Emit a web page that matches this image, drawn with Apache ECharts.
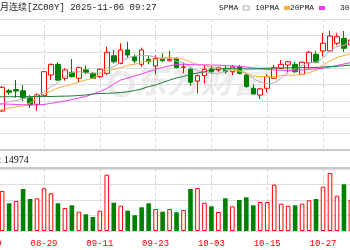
<!DOCTYPE html>
<html><head><meta charset="utf-8">
<script src="https://cdn.jsdelivr.net/npm/echarts@6/dist/echarts.min.js"></script>
<style>html,body{margin:0;padding:0;background:#fff;overflow:hidden}#c{width:350px;height:250px}</style>
</head><body><div id="c"></div>
<script>
// ---- data ----
const titleText = '月连续[ZC00Y] 2025-11-06 09:27';
const volLabel = ': 14974';
const watermark = '东方财富';
const maNames = ['5PMA', '10PMA', '20PMA', '30PMA'];
const dates = ['08-19','08-20','08-21','08-22','08-25','08-26','08-27','08-28','08-29','09-01','09-02','09-03','09-04','09-05','09-08','09-10','09-11','09-12','09-15','09-16','09-17','09-18','09-19','09-22','09-23','09-24','09-25','09-26','09-29','09-30','10-01','10-02','10-03','10-06','10-07','10-08','10-09','10-10','10-13','10-14','10-15','10-16','10-17','10-20','10-21','10-22','10-23','10-24','10-27','10-28','10-29','10-30','10-31','11-03'];
// [open, close, low, high]
const candles = [
 [650.0,648.0,646.5,651.0],[648.0,646.0,645.0,649.0],[643.8,658.3,643.2,659.1],[656.2,655.2,653.6,657.3],
 [656.9,656.0,651.9,662.7],[656.2,651.9,649.9,659.7],[651.9,647.5,645.8,653.6],[647.9,653.6,643.8,654.6],
 [653.2,667.8,652.7,668.2],[665.8,672.3,662.7,672.9],[672.3,662.7,662.1,673.6],[663.8,668.9,662.3,669.9],
 [667.5,664.8,664.2,675.6],[663.8,670.3,661.3,670.9],[668.9,667.5,666.2,671.5],[666.8,663.8,663.4,667.8],
 [664.8,669.3,663.8,669.9],[666.8,679.7,665.8,683.1],[677.6,673.9,672.9,681.1],[672.9,681.1,672.3,685.2],
 [681.1,678.0,676.0,686.1],[677.0,674.4,672.9,678.4],[672.3,681.1,670.9,682.5],[675.4,673.9,672.3,678.0],
 [671.3,676.0,666.2,678.0],[675.4,674.5,673.6,679.1],[674.5,675.4,673.9,680.5],[676.0,670.3,669.9,676.4],
 [670.6,670.8,666.8,672.9],[669.3,661.3,659.1,669.9],[662.1,665.4,654.6,666.2],[665.4,669.3,660.7,671.9],
 [669.5,667.8,666.8,671.5],[668.9,670.3,667.8,670.9],[669.9,667.8,666.8,671.5],[667.8,670.7,665.8,671.9],
 [670.9,666.8,666.2,671.9],[665.8,658.7,658.0,666.8],[657.7,654.2,654.0,660.1],[653.6,657.3,651.1,657.9],
 [657.7,664.8,655.2,666.2],[663.8,670.3,663.4,671.9],[669.9,672.3,669.5,675.0],[671.9,673.9,666.8,674.4],
 [672.3,667.8,667.0,673.9],[666.2,673.6,665.8,673.9],[673.3,679.7,669.9,680.5],[678.4,673.6,672.9,680.5],
 [680.5,685.2,677.0,691.4],[680.5,689.6,680.0,692.7],[685.2,689.2,684.1,691.3],[688.2,682.1,680.0,692.7],
 [684.1,687.2,682.9,688.4],[687.0,688.0,685.5,689.5]
];
const volumes = [12000,15000,19355,13400,14520,20320,15480,15820,20660,18240,13400,11130,12430,9340,8080,6770,
 9820,27240,13690,12240,9820,7600,11470,13400,10650,9340,10650,9050,10160,20320,20810,13690,11950,9190,15820,
 11950,15000,16310,12430,14030,14030,22400,13210,12240,12430,13210,14860,15480,21440,28070,17080,22600,14974,16000];
// 1 = rising (red) volume bar, 0 = falling (green)
const volUp = [0,1,1,0,1,0,0,1,1,1,0,1,0,1,0,0,1,1,0,1,0,0,0,0,1,0,1,0,1,0,1,1,0,1,0,1,0,0,0,1,1,1,1,1,0,1,1,0,1,1,1,0,1,1];
const ma5 = [645.6,646.9,648.4,649.6,650.2,651.1,652.4,653.0,655.4,658.7,660.8,665.1,667.3,667.8,666.8,667.0,667.0,
 670.1,670.8,673.6,676.4,677.4,677.6,677.6,676.7,676.0,676.2,674.0,673.4,670.4,668.6,667.4,666.9,666.8,668.2,669.2,
 668.7,666.8,663.7,661.5,660.4,661.0,663.8,667.7,669.8,671.6,673.4,673.7,675.9,680.3,683.4,683.9,686.6,687.2];
const ma10 = [643.2,643.8,644.7,645.6,646.3,646.9,648.7,651.8,654.2,656.0,657.9,659.1,660.1,661.6,662.7,663.9,666.1,
 668.7,669.3,670.2,671.7,672.3,673.9,674.2,675.1,676.2,676.8,675.9,675.5,673.6,672.3,671.8,670.4,670.1,669.3,668.9,
 668.1,666.9,665.2,664.8,664.8,664.8,665.3,665.7,665.7,666.0,667.3,668.7,671.8,674.4,676.5,677.7,678.9,679.8];
const ma20 = [648.1,648.1,648.1,648.0,647.8,647.6,647.5,647.5,647.8,648.5,649.3,649.9,650.8,651.8,652.7,654.2,655.7,
 657.6,660.3,662.7,664.0,665.2,666.4,667.9,669.2,670.4,671.4,672.2,672.4,672.1,672.0,672.0,671.9,671.8,671.6,671.3,
 671.1,670.7,670.1,669.5,669.2,668.9,668.7,668.7,668.7,668.9,669.2,669.5,670.0,670.7,671.6,672.5,673.4,674.4];
const ma30 = [652.5,652.5,652.5,652.5,652.6,652.6,652.6,652.7,652.7,652.7,652.8,652.9,653.0,653.3,653.6,654.2,654.5,
 654.6,654.8,655.1,655.6,656.3,657.3,658.7,659.7,661.2,662.7,664.0,664.9,666.2,667.0,667.8,668.9,669.2,669.8,669.9,
 669.8,669.5,669.5,669.8,669.9,670.0,670.1,670.2,670.3,670.3,670.3,670.4,670.7,670.9,671.1,671.5,671.9,672.2];
const priceMin = 620, priceMax = 700, priceStep = 10;
const volMax = 30000, volStep = 7500;

// ---- chart ----
const RED = '#ff0000', GREEN = '#008000';
const maColors = ['#b0b0b0', '#f9ae3c', '#f23af2', '#1f7a3a'];
const maData = [ma5, ma10, ma20, ma30];
const gridL = -11.8, gridR = -7.9;
const chart = echarts.init(document.getElementById('c'), null, {renderer: 'canvas'});
const font = "'Liberation Mono','Noto Sans CJK SC',monospace";
const legendLefts = [219, 255, 290, 340];
const option = {
  animation: false,
  backgroundColor: '#fff',
  title: {text: titleText, left: 0, top: 3, padding: 0,
    textStyle: {fontSize: 9, fontWeight: 'normal', color: '#222', fontFamily: font}},
  legend: maNames.map((n, k) => ({
    data: [{name: n, icon: 'rect', itemStyle: k === 0 ? {color: '#fff', borderColor: '#aaa', borderWidth: 1} : {color: maColors[k]}}],
    left: legendLefts[k], top: 4, padding: 0, align: 'right', itemWidth: 6, itemHeight: 4,
    selectedMode: false, textStyle: {fontSize: 8, color: '#222', fontFamily: font}
  })),
  grid: [
    {left: gridL, right: gridR, top: 19, height: 131, outerBoundsMode: 'none', containLabel: false},
    {left: gridL, right: gridR, top: 169, height: 62, outerBoundsMode: 'none', containLabel: false}
  ],
  xAxis: [0, 1].map(g => ({
    type: 'category', gridIndex: g, data: dates, boundaryGap: false,
    axisLine: {show: false}, axisTick: {show: false},
    axisLabel: {show: g === 1, interval: 7, color: RED, fontSize: 9, fontFamily: font, margin: 8, hideOverlap: false},
    splitLine: {show: true, interval: 7, lineStyle: {color: '#d4d4d4', type: [3, 3], width: 1}}
  })),
  yAxis: [
    {type: 'value', gridIndex: 0, min: priceMin, max: priceMax, interval: priceStep, scale: true,
      axisLabel: {show: false}, axisLine: {show: false}, axisTick: {show: false},
      splitLine: {lineStyle: {color: '#dedede', width: 1}}},
    {type: 'value', gridIndex: 1, min: 0, max: volMax, interval: volStep,
      axisLabel: {show: false}, axisLine: {show: false}, axisTick: {show: false},
      splitLine: {lineStyle: {color: '#dedede', width: 1}}}
  ],
  graphic: [
    {type: 'text', left: 134, top: 64, z: 0, silent: true,
      style: {text: watermark, fontSize: 33, fontWeight: 'bold', fontStyle: 'italic',
        fontFamily: "'Noto Sans CJK SC'", fill: '#ebebeb'}},
    {type: 'circle', shape: {cx: 121, cy: 84, r: 11}, z: 0, silent: true,
      style: {fill: 'none', stroke: '#ececec', lineWidth: 5}},
    {type: 'rect', shape: {x: -2, y: 150, width: 354, height: 18}, z: 5, silent: true,
      style: {fill: '#fff', stroke: '#c9c9c9', lineWidth: 2}},
    {type: 'text', x: -1.5, y: 155, z: 6, silent: true,
      style: {text: volLabel, fontSize: 10, fontFamily: "'Liberation Serif'", fill: '#111'}}
  ],
  series: [
    {type: 'candlestick', name: 'K', xAxisIndex: 0, yAxisIndex: 0, data: candles, barWidth: 5, z: 3,
      itemStyle: {color: '#fff', color0: GREEN, borderColor: RED, borderColor0: GREEN, borderWidth: 1}},
    ...maNames.map((n, k) => ({
      type: 'line', name: n, xAxisIndex: 0, yAxisIndex: 0, data: maData[k], symbol: 'none',
      z: 4, lineStyle: {color: maColors[k], width: 1}, itemStyle: {color: maColors[k]}
    })),
    {type: 'bar', name: 'VOL', xAxisIndex: 1, yAxisIndex: 1, barWidth: 4.6, z: 3,
      data: volumes.map((v, i) => ({value: v,
        itemStyle: volUp[i] ? {color: '#fff', borderColor: RED, borderWidth: 1} : {color: GREEN}}))}
  ]
};
chart.setOption(option);
</script>
</body></html>
